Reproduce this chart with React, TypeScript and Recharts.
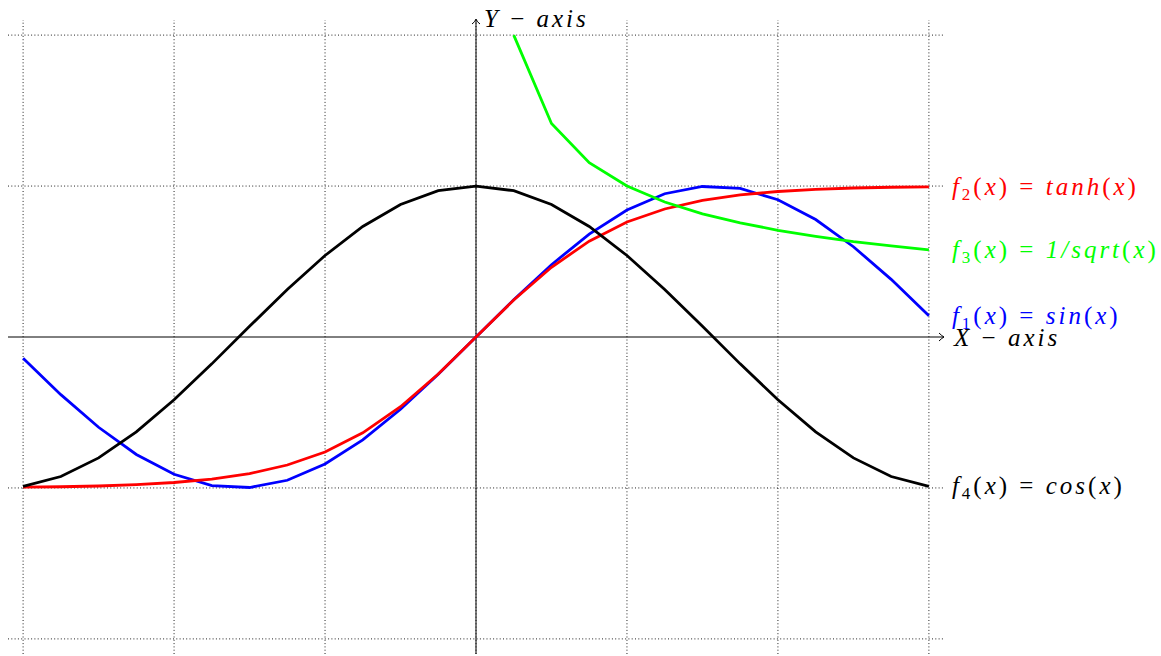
import React from "react";
import {
  LineChart,
  Line,
  XAxis,
  YAxis,
  ReferenceLine,
  ReferenceDot,
} from "recharts";

// sample positions along x (quarter steps)
const xs = [
  -3, -2.75, -2.5, -2.25, -2, -1.75, -1.5, -1.25, -1, -0.75, -0.5, -0.25, 0,
  0.25, 0.5, 0.75, 1, 1.25, 1.5, 1.75, 2, 2.25, 2.5, 2.75, 3,
];

const sinVals = [
  -0.141, -0.382, -0.598, -0.778, -0.909, -0.984, -0.997, -0.949, -0.841,
  -0.682, -0.479, -0.247, 0, 0.247, 0.479, 0.682, 0.841, 0.949, 0.997, 0.984,
  0.909, 0.778, 0.598, 0.382, 0.141,
];

const tanhVals = [
  -0.995, -0.992, -0.987, -0.978, -0.964, -0.941, -0.905, -0.848, -0.762,
  -0.635, -0.462, -0.245, 0, 0.245, 0.462, 0.635, 0.762, 0.848, 0.905, 0.941,
  0.964, 0.978, 0.987, 0.992, 0.995,
];

// only drawn for x > 0
const isqrtVals = [
  null, null, null, null, null, null, null, null, null, null, null, null, null,
  2, 1.414, 1.155, 1, 0.894, 0.816, 0.756, 0.707, 0.667, 0.632, 0.603, 0.577,
];

const cosVals = [
  -0.99, -0.924, -0.801, -0.628, -0.416, -0.178, 0.071, 0.315, 0.54, 0.732,
  0.878, 0.969, 1, 0.969, 0.878, 0.732, 0.54, 0.315, 0.071, -0.178, -0.416,
  -0.628, -0.801, -0.924, -0.99,
];

const xTicks = [-3, -2, -1, 0, 1, 2, 3];
const yTicks = [-2, -1, 1, 2];

const data = xs.map((x, i) => ({
  x,
  sin: sinVals[i],
  tanh: tanhVals[i],
  isqrt: isqrtVals[i],
  cos: cosVals[i],
}));

const textStyle = {
  fontFamily: '"Liberation Serif", serif',
  fontSize: 25,
  letterSpacing: 3,
  whiteSpace: "pre" as const,
};

// "f_n(x) = name(x)" with math-ish italics
function FnLabel({ cx, cy, n, name, color }: any) {
  return (
    <text x={cx + 23} y={cy + 8} fill={color} style={textStyle}>
      <tspan fontStyle="italic">f</tspan>
      <tspan style={{ fontSize: 17 }} dy={5}>{n}</tspan>
      <tspan dy={-5}>(</tspan>
      <tspan fontStyle="italic">x</tspan>
      <tspan>{") = "}</tspan>
      <tspan fontStyle="italic">{name}</tspan>
      <tspan>(</tspan>
      <tspan fontStyle="italic">x</tspan>
      <tspan>)</tspan>
    </text>
  );
}

function AxisName({ x, y, letter }: any) {
  return (
    <text x={x} y={y} fill="#000" style={textStyle}>
      <tspan fontStyle="italic">{letter}</tspan>
      <tspan>{" − "}</tspan>
      <tspan fontStyle="italic">axis</tspan>
    </text>
  );
}

const last = xs.length - 1;
const grid = { stroke: "#222", strokeWidth: 1, strokeDasharray: "1 2.3" };

export default function App() {
  return (
    <div style={{ position: "absolute", left: 0, top: 0 }}>
      <LineChart
        width={1161}
        height={656}
        data={data}
        margin={{ top: 20, right: 217, bottom: 2, left: 8 }}
      >
        <XAxis dataKey="x" type="number" domain={[-3.1, 3.1]} hide />
        <YAxis type="number" domain={[-2.1, 2.1]} hide />

        {xTicks.map((t) => (
          <ReferenceLine key={`gx${t}`} x={t} {...grid} />
        ))}
        {yTicks.map((t) => (
          <ReferenceLine key={`gy${t}`} y={t} {...grid} />
        ))}

        <ReferenceLine x={0} stroke="#000" strokeWidth={1} />
        <ReferenceLine y={0} stroke="#000" strokeWidth={1} />
        <ReferenceDot
          x={3.1}
          y={0}
          r={0}
          shape={({ cx, cy }: any) => (
            <g>
              <path
                d={`M${cx - 5},${cy - 4} Q${cx - 2},${cy - 1} ${cx},${cy} Q${cx - 2},${cy + 1} ${cx - 5},${cy + 4}`}
                fill="none"
                stroke="#000"
                strokeWidth={1}
              />
              <AxisName x={cx + 10} y={cy + 9} letter="X" />
            </g>
          )}
        />
        <ReferenceDot
          x={0}
          y={2.1}
          r={0}
          shape={({ cx, cy }: any) => (
            <g>
              <path
                d={`M${cx - 4},${cy + 4} Q${cx - 1},${cy + 2} ${cx},${cy - 1} Q${cx + 1},${cy + 2} ${cx + 4},${cy + 4}`}
                fill="none"
                stroke="#000"
                strokeWidth={1}
              />
              <AxisName x={cx + 8} y={cy + 7} letter="Y" />
            </g>
          )}
        />

        <Line
          dataKey="sin"
          type="linear"
          stroke="#0000ff"
          strokeWidth={2.8}
          dot={false}
          isAnimationActive={false}
        />
        <Line
          dataKey="tanh"
          type="linear"
          stroke="#ff0000"
          strokeWidth={2.8}
          dot={false}
          isAnimationActive={false}
        />
        <Line
          dataKey="isqrt"
          type="linear"
          stroke="#00ff00"
          strokeWidth={2.8}
          dot={false}
          isAnimationActive={false}
        />
        <Line
          dataKey="cos"
          type="linear"
          stroke="#000000"
          strokeWidth={2.8}
          dot={false}
          isAnimationActive={false}
        />

        <ReferenceDot
          x={xs[last]}
          y={tanhVals[last]}
          r={0}
          shape={(p: any) => <FnLabel {...p} n="2" name="tanh" color="#ff0000" />}
        />
        <ReferenceDot
          x={xs[last]}
          y={isqrtVals[last]}
          r={0}
          shape={(p: any) => (
            <FnLabel {...p} n="3" name="1/sqrt" color="#00ff00" />
          )}
        />
        <ReferenceDot
          x={xs[last]}
          y={sinVals[last]}
          r={0}
          shape={(p: any) => <FnLabel {...p} n="1" name="sin" color="#0000ff" />}
        />
        <ReferenceDot
          x={xs[last]}
          y={cosVals[last]}
          r={0}
          shape={(p: any) => <FnLabel {...p} n="4" name="cos" color="#000000" />}
        />
      </LineChart>
    </div>
  );
}
